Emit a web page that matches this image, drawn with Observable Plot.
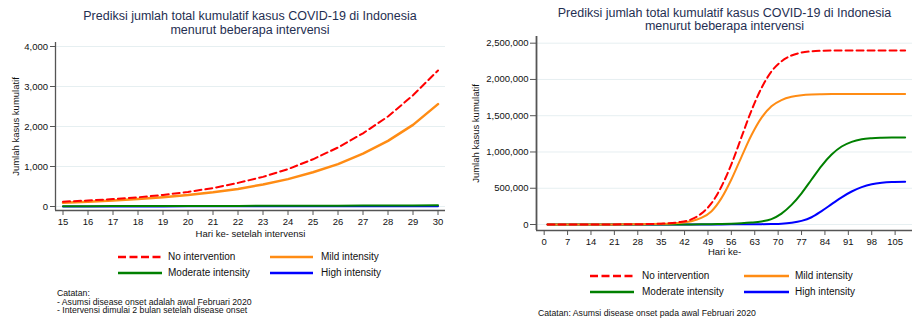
<!DOCTYPE html>
<html><head><meta charset="utf-8">
<script src="https://cdn.jsdelivr.net/npm/d3@7"></script>
<script src="https://cdn.jsdelivr.net/npm/@observablehq/plot@0.6"></script>
<style>
body{margin:0;background:#fff;font-family:"Liberation Sans",Arial,sans-serif;}
#root{position:relative;width:914px;height:324px;overflow:hidden;background:#fff;}
.abs{position:absolute;}
.title{color:#1f2f52;font-size:12.5px;text-align:center;white-space:nowrap;}
.leg{font-size:10px;color:#111;white-space:nowrap;line-height:12px;}
.note{font-size:8.7px;color:#111;white-space:nowrap;}
svg.sw{position:absolute;overflow:visible;}
</style></head><body><div id="root"></div>
<script>
// ---------- data ----------
const seriesNames = ["No intervention", "Mild intensity", "Moderate intensity", "High intensity"];
const seriesColors = ["#ff0000", "#ff8c14", "#008000", "#0000ff"];

// Left chart: days after intervention
const leftDays = [15,16,17,18,19,20,21,22,23,24,25,26,27,28,29,30];
const leftNoIntervention = [120,150,185,230,290,365,460,590,740,935,1180,1475,1830,2250,2780,3400];
const leftMild = [95,120,150,185,230,285,355,440,550,685,855,1060,1320,1640,2040,2560];
const leftModerate = [8,9,10,11,12,13,14,15,16,18,19,21,23,25,27,30];
const leftHigh = [2,2,3,3,3,4,4,4,5,5,6,6,7,7,8,8];
const leftYTicks = [0,1000,2000,3000,4000];

// Right chart: day since onset
const rightDays = [1,7,14,21,28,35,40,44,47,50,53,56,59,62,65,68,71,74,77,80,83,86,89,92,95,98,101,104,108];
const rightNoIntervention = [100,200,500,1500,4000,12000,30000,70000,150000,290000,520000,830000,1200000,1570000,1880000,2110000,2250000,2330000,2370000,2388000,2395000,2398000,2399000,2400000,2400000,2400000,2400000,2400000,2400000];
const rightMild = [80,150,400,1200,3000,9000,22000,45000,90000,180000,360000,620000,930000,1230000,1470000,1630000,1715000,1760000,1782000,1792000,1796000,1798000,1799000,1800000,1800000,1800000,1800000,1800000,1800000];
const rightModerate = [10,20,40,80,150,300,700,1500,2500,4000,6500,10000,16000,26000,42000,75000,150000,270000,430000,620000,810000,965000,1075000,1140000,1175000,1189000,1195000,1198000,1199000];
const rightHigh = [5,10,20,40,80,150,250,400,600,900,1300,1800,2500,3500,5000,7500,12000,25000,50000,100000,185000,280000,375000,455000,515000,555000,576000,586000,590000];
const rightXTicks = [0,7,14,21,28,35,42,49,56,63,70,77,84,91,98,105];
const rightYTicks = [0,500000,1000000,1500000,2000000,2500000];

const leftTitle = ["Prediksi jumlah total kumulatif kasus COVID-19 di Indonesia", "menurut beberapa intervensi"];
const rightTitle = leftTitle;
const leftXLabel = "Hari ke- setelah intervensi";
const rightXLabel = "Hari ke-";
const yLabel = "Jumlah kasus kumulatif";
const leftNotes = ["Catatan:", "- Asumsi disease onset adalah awal Februari 2020", "- Intervensi dimulai 2 bulan setelah disease onset"];
const rightNotes = ["Catatan: Asumsi disease onset pada awal Februari 2020"];

// ---------- helpers ----------
const root = document.getElementById("root");
function toRows(days, arrays) {
  return arrays.map((arr, i) => days.map((d, j) => ({day: d, value: arr[j], series: seriesNames[i]})));
}
function addDiv(cls, left, top, html, extra) {
  const el = document.createElement("div");
  el.className = "abs " + cls;
  el.style.left = left + "px"; el.style.top = top + "px";
  if (extra) Object.assign(el.style, extra);
  el.innerHTML = html;
  root.appendChild(el);
  return el;
}
function addTitle(cx, top, lh, lines) {
  addDiv("title", cx - 220, top, lines.join("<br>"), {width: "440px", lineHeight: lh + "px"});
}
function addLegend(rows, cols) {
  seriesNames.forEach((name, i) => {
    const r = Math.floor(i / 2), c = i % 2;
    const y = rows[r], col = cols[c];
    const ns = "http://www.w3.org/2000/svg";
    const svg = document.createElementNS(ns, "svg");
    svg.setAttribute("class", "sw");
    svg.setAttribute("width", col.ex - col.sx);
    svg.setAttribute("height", 6);
    svg.style.left = col.sx + "px"; svg.style.top = (y - 3) + "px";
    const ln = document.createElementNS(ns, "line");
    ln.setAttribute("x1", 0); ln.setAttribute("x2", col.ex - col.sx);
    ln.setAttribute("y1", 3); ln.setAttribute("y2", 3);
    ln.setAttribute("stroke", seriesColors[i]);
    ln.setAttribute("stroke-width", 2.6);
    if (i === 0) ln.setAttribute("stroke-dasharray", "8,3.5");
    svg.appendChild(ln);
    root.appendChild(svg);
    addDiv("leg", col.lx, y - 6, name);
  });
}
function lineMarks(rows, curve, widths) {
  const order = [3, 2, 1, 0];
  return order.map(i => Plot.line(rows[i], {
    x: "day", y: "value", stroke: seriesColors[i], strokeWidth: widths[i], curve,
    strokeDasharray: i === 0 ? "7,4" : null
  }));
}

const font = "Liberation Sans, Arial, sans-serif";
const gridColor = "#e6eff1";
const axisColor = "#555";

// ---------- left chart ----------
{
  const xd = [14.7, 30.3], yd = [-100, 4100];
  const rows = toRows(leftDays, [leftNoIntervention, leftMild, leftModerate, leftHigh]);
  const p = Plot.plot({
    width: 457, height: 209, marginTop: 6, marginBottom: 35, marginLeft: 55, marginRight: 12,
    x: {domain: xd}, y: {domain: yd},
    style: {fontFamily: font, fontSize: "9.5px", color: "#111", background: "transparent", overflow: "visible"},
    marks: [
      Plot.gridY(leftYTicks, {stroke: gridColor, strokeOpacity: 1, strokeWidth: 1}),
      ...lineMarks(rows, "linear", [2, 2.5, 2, 2]),
      Plot.ruleX([xd[0]], {stroke: axisColor, strokeWidth: 1.3}),
      Plot.ruleY([yd[0]], {stroke: axisColor, strokeWidth: 1.3}),
      Plot.axisY(leftYTicks, {tickFormat: d3.format(","), tickSize: 5, tickPadding: 2.5, label: null, stroke: axisColor}),
      Plot.axisX(leftDays, {tickFormat: d => String(d), tickSize: 5, tickPadding: 3, label: null, stroke: axisColor}),
      Plot.text([yLabel], {frameAnchor: "left", textAnchor: "middle", dx: -40, rotate: -90, fontSize: 9.5, fill: "#111"}),
      Plot.text([leftXLabel], {frameAnchor: "bottom", dy: 26, fontSize: 9.5, fill: "#111"})
    ]
  });
  p.style.position = "absolute"; p.style.left = "0px"; p.style.top = "36px";
  root.appendChild(p);
  addTitle(250, 9, 14, leftTitle);
  addLegend([257, 273], [{sx: 118, ex: 162, lx: 168}, {sx: 270, ex: 313, lx: 321}]);
  addDiv("note", 57, 289, leftNotes.join("<br>"), {lineHeight: "8.6px"});
}

// ---------- right chart ----------
{
  const xd = [-2.3, 110.2], yd = [-82700, 2592000];
  const rows = toRows(rightDays, [rightNoIntervention, rightMild, rightModerate, rightHigh]);
  const p = Plot.plot({
    width: 457, height: 232, marginTop: 6, marginBottom: 32, marginLeft: 79, marginRight: 2,
    x: {domain: xd}, y: {domain: yd},
    style: {fontFamily: font, fontSize: "9.5px", color: "#111", background: "transparent", overflow: "visible"},
    marks: [
      Plot.gridY(rightYTicks, {stroke: gridColor, strokeOpacity: 1, strokeWidth: 1}),
      ...lineMarks(rows, "monotone-x", [2, 2, 2, 2]),
      Plot.ruleX([xd[0]], {stroke: axisColor, strokeWidth: 1.8}),
      Plot.ruleY([yd[0]], {stroke: axisColor, strokeWidth: 1.3}),
      Plot.axisY(rightYTicks, {tickFormat: d3.format(","), tickSize: 6, tickPadding: 2, label: null, stroke: axisColor}),
      Plot.axisX(rightXTicks, {tickFormat: d => String(d), tickSize: 5, tickPadding: 3, label: null, stroke: axisColor}),
      Plot.text([yLabel], {frameAnchor: "left", textAnchor: "middle", dx: -61, rotate: -90, fontSize: 9.5, fill: "#111"}),
      Plot.text([rightXLabel], {frameAnchor: "bottom", dy: 24, fontSize: 9.5, fill: "#111"})
    ]
  });
  p.style.position = "absolute"; p.style.left = "457px"; p.style.top = "30px";
  root.appendChild(p);
  addTitle(724.5, 7, 12.7, rightTitle);
  addLegend([276, 292], [{sx: 590, ex: 634, lx: 642}, {sx: 744, ex: 789, lx: 795}]);
  addDiv("note", 538, 308, rightNotes.join("<br>"), {lineHeight: "10px"});
}
</script>
</body></html>
